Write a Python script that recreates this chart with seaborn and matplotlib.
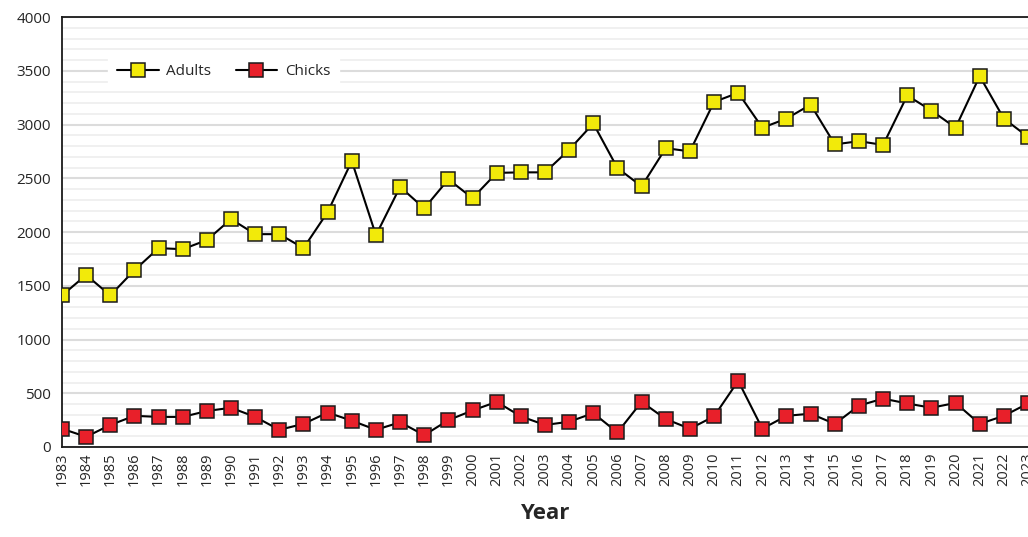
import numpy as np
import pandas as pd
import matplotlib
matplotlib.use("Agg")
import matplotlib.pyplot as plt
from matplotlib.ticker import MultipleLocator
import seaborn as sns

years = list(range(1983, 2024))
adults = [1410, 1600, 1410, 1645, 1850, 1840, 1925, 2120, 1980, 1980,
          1850, 2185, 2660, 1970, 2420, 2220, 2490, 2315, 2550, 2555,
          2555, 2765, 3010, 2595, 2425, 2780, 2750, 3210, 3295, 2970,
          3055, 3185, 2815, 2845, 2810, 3270, 3130, 2970, 3450, 3055, 2885]
chicks = [170, 95, 205, 290, 280, 280, 335, 365, 280, 160,
          215, 320, 245, 160, 230, 110, 250, 340, 420, 285,
          205, 235, 315, 135, 420, 260, 170, 285, 615, 170,
          290, 310, 215, 385, 450, 405, 365, 410, 215, 290, 405]

sns.set_style("white")
plt.rcParams['font.family'] = ['Open Sans', 'DejaVu Sans']

df = pd.DataFrame({'Year': years, 'Adults': adults, 'Chicks': chicks})

fig = plt.figure(figsize=(10.28, 5.37), dpi=100)
ax = fig.add_axes([0.0603, 0.1676, 0.9397, 0.8007])

for col, colour in [('Adults', '#f2ea0a'), ('Chicks', '#e8202a')]:
    sns.lineplot(data=df, x='Year', y=col, ax=ax, color='black', linewidth=1.5,
                 marker='s', markersize=9.5, markerfacecolor=colour,
                 markeredgecolor='#1a1a1a', markeredgewidth=1.1, label=col,
                 zorder=3)

ax.set_xlim(1983, 2023)
ax.set_ylim(0, 4000)
ax.set_xticks(years)
ax.set_xticklabels([str(y) for y in years], rotation=90, fontsize=10.5)
ax.yaxis.set_major_locator(MultipleLocator(500))
ax.yaxis.set_minor_locator(MultipleLocator(100))
ax.tick_params(axis='y', labelsize=11, length=0, pad=8)
ax.tick_params(axis='x', length=0, pad=4)
ax.grid(True, which='minor', axis='y', color='#efefef', linewidth=1.3, zorder=0)
ax.grid(True, which='major', axis='y', color='#dcdcdc', linewidth=1.5, zorder=0)
ax.set_axisbelow(True)

for side in ['left', 'top', 'bottom']:
    ax.spines[side].set_color('#1a1a1a')
    ax.spines[side].set_linewidth(1.3)
ax.spines['right'].set_visible(False)

ax.set_ylabel('')
ax.set_xlabel('Year', fontsize=16, fontweight='bold', color='#262626', labelpad=12)

leg = ax.legend(loc='upper left', bbox_to_anchor=(0.04, 0.93), ncol=2,
                frameon=True, fontsize=11, handlelength=2.7, handletextpad=0.5,
                columnspacing=1.6, borderpad=0.6, fancybox=False)
leg.get_frame().set_edgecolor('white')
leg.get_frame().set_facecolor('white')
leg.get_frame().set_alpha(1)

fig.savefig('out.png', dpi=100)
